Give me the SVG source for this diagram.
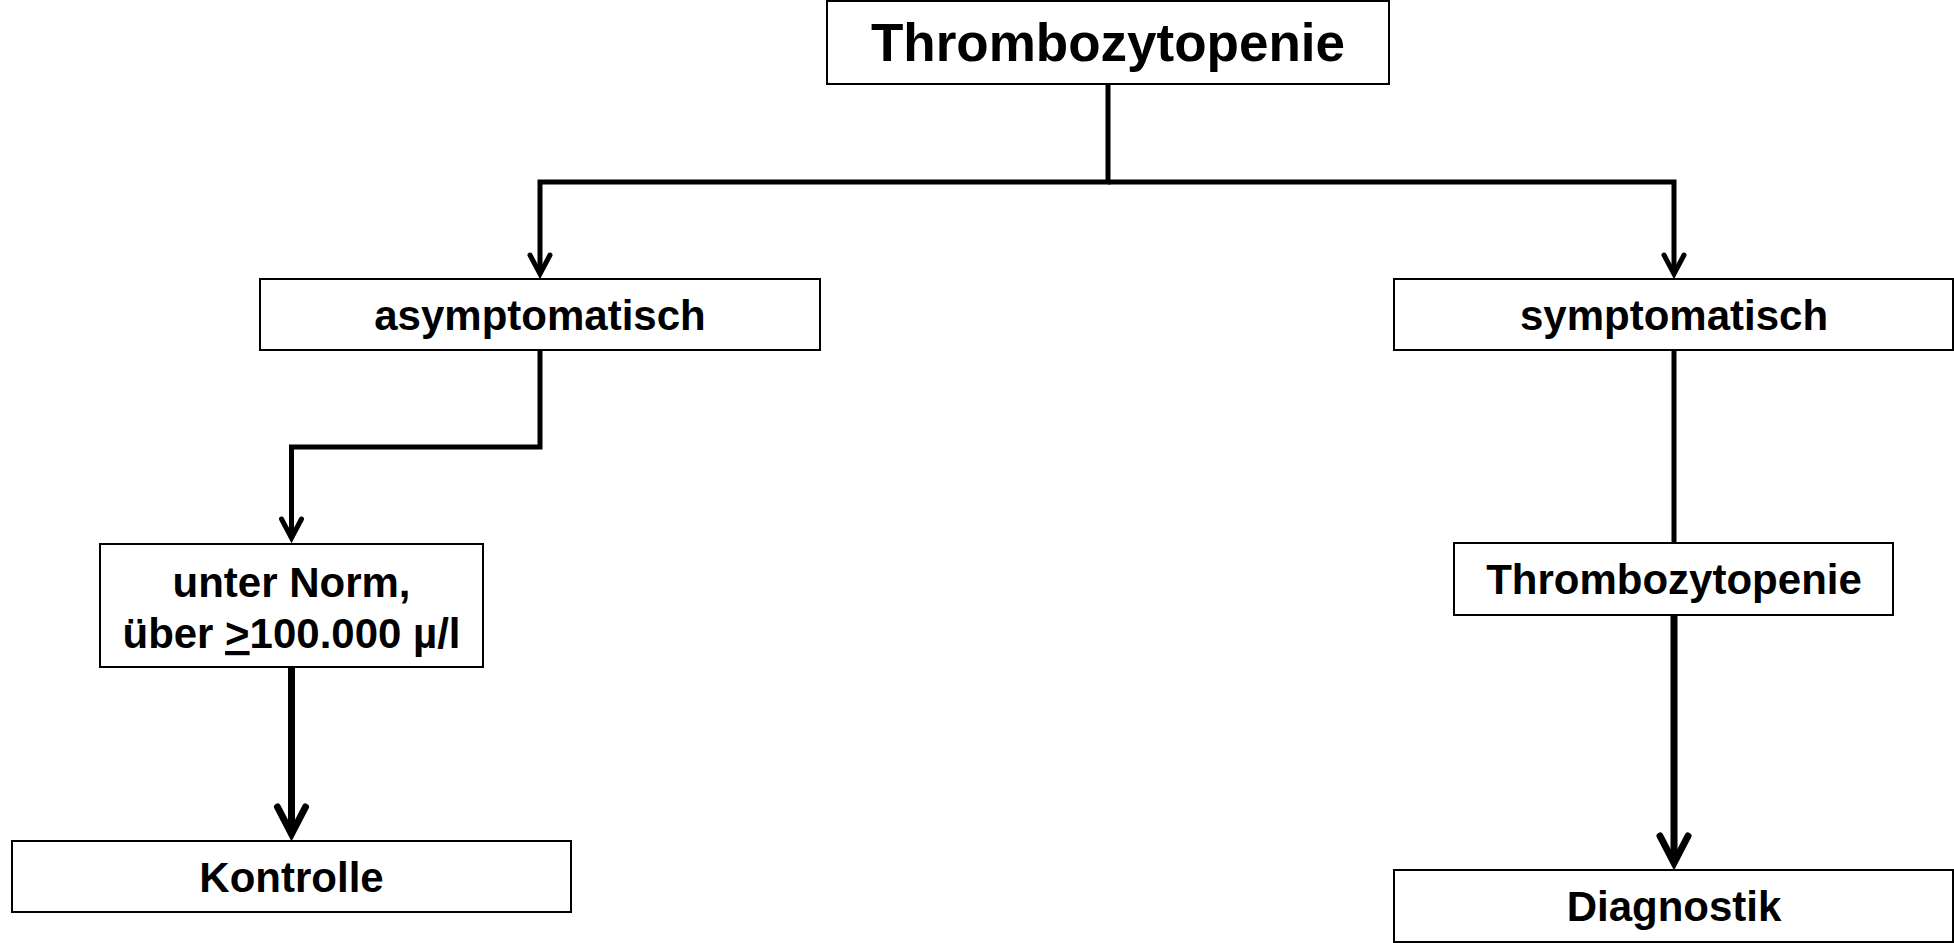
<svg xmlns="http://www.w3.org/2000/svg" width="1954" height="943" viewBox="0 0 1954 943">
  <style>
    .box { fill: #ffffff; stroke: #000000; stroke-width: 2; }
    .lbl { font-family: "Liberation Sans", Arial, sans-serif; font-weight: bold; fill: #000000; text-anchor: middle; }
    .thin { fill: none; stroke: #000000; stroke-width: 5; stroke-linejoin: miter; }
    .thick { fill: none; stroke: #000000; stroke-width: 7; }
  </style>
  <defs>
    <marker id="arrThin" markerUnits="userSpaceOnUse" viewBox="-40 -25 50 50" refX="0" refY="0" markerWidth="50" markerHeight="50" orient="auto">
      <path d="M -19,-10 L 0,0 L -19,10" fill="none" stroke="#000" stroke-width="5" stroke-linecap="round" stroke-linejoin="miter"/>
    </marker>
    <marker id="arrThick" markerUnits="userSpaceOnUse" viewBox="-45 -25 55 50" refX="0" refY="0" markerWidth="55" markerHeight="50" orient="auto">
      <path d="M -27,-14 L 0,0 L -27,14" fill="none" stroke="#000" stroke-width="7" stroke-linecap="round" stroke-linejoin="miter"/>
    </marker>
  </defs>

  <g id="connectors">
    <path class="thin" d="M1108,84 V182 H540 V274" marker-end="url(#arrThin)"/>
    <path class="thin" d="M1108,182 H1674 V274" marker-end="url(#arrThin)"/>
    <path class="thin" d="M540,350 V447 H291.5 V538" marker-end="url(#arrThin)"/>
    <path class="thick" d="M291.5,667 V834" marker-end="url(#arrThick)"/>
    <path class="thin" d="M1674,350 V543"/>
    <path class="thick" d="M1674,615 V863" marker-end="url(#arrThick)"/>
  </g>

  <g id="node-root">
    <rect class="box" x="827" y="1" width="562" height="83"/>
    <text class="lbl" x="1108" y="61" font-size="53">Thrombozytopenie</text>
  </g>

  <g id="node-asymptomatisch">
    <rect class="box" x="260" y="279" width="560" height="71"/>
    <text class="lbl" x="540" y="330" font-size="42">asymptomatisch</text>
  </g>

  <g id="node-symptomatisch">
    <rect class="box" x="1394" y="279" width="559" height="71"/>
    <text class="lbl" x="1674" y="330" font-size="42">symptomatisch</text>
  </g>

  <g id="node-unter-norm">
    <rect class="box" x="100" y="544" width="383" height="123"/>
    <text class="lbl" x="291.5" y="597" font-size="42">unter Norm,</text>
    <text class="lbl" x="291.5" y="648" font-size="42" textLength="338" lengthAdjust="spacingAndGlyphs">über <tspan text-decoration="underline">&gt;</tspan>100.000 µ/l</text>
  </g>

  <g id="node-kontrolle">
    <rect class="box" x="12" y="841" width="559" height="71"/>
    <text class="lbl" x="291.5" y="892" font-size="42">Kontrolle</text>
  </g>

  <g id="node-thrombo2">
    <rect class="box" x="1454" y="543" width="439" height="72"/>
    <text class="lbl" x="1674" y="594" font-size="42">Thrombozytopenie</text>
  </g>

  <g id="node-diagnostik">
    <rect class="box" x="1394" y="870" width="559" height="72"/>
    <text class="lbl" x="1674" y="921" font-size="42">Diagnostik</text>
  </g>
</svg>
